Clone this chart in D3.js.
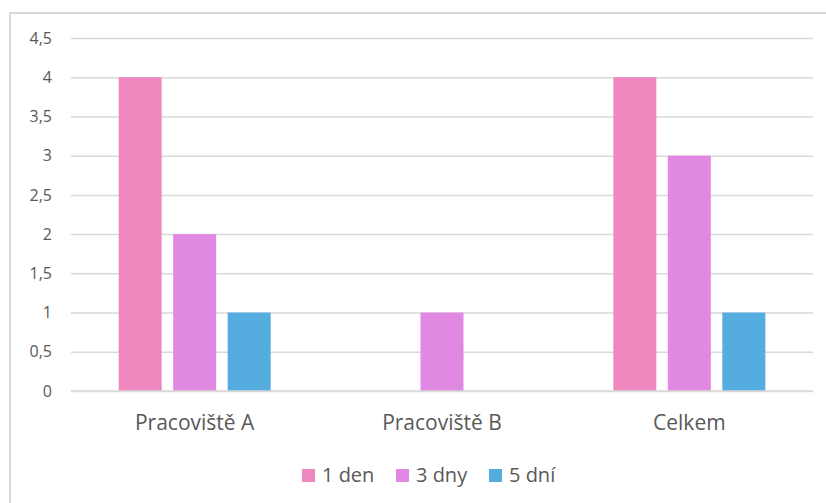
<!DOCTYPE html>
<html>
<head>
<meta charset="utf-8">
<script src="https://cdn.jsdelivr.net/npm/d3@7"></script>
<style>
  html, body { margin: 0; padding: 0; background: #fff; }
  svg { display: block; }
  text { font-family: "Open Sans", Lato, sans-serif; fill: #595959; }
</style>
</head>
<body>
<svg id="chart" width="826" height="503"></svg>
<script>
// Data
const categories = ["Pracoviště A", "Pracoviště B", "Celkem"];
const seriesNames = ["1 den", "3 dny", "5 dní"];
const den1 = [4, 0, 4];
const dny3 = [2, 1, 3];
const dni5 = [1, 0, 1];
const yTicks = [0, 0.5, 1, 1.5, 2, 2.5, 3, 3.5, 4, 4.5];
const colors = ["#EF88BE", "#E088E2", "#55ACDF"];

const seriesValues = [den1, dny3, dni5];
const rows = categories.map((c, i) => ({
  category: c,
  values: seriesNames.map((s, j) => ({ series: s, value: seriesValues[j][i], idx: j }))
}));

const svg = d3.select("#chart");
const W = 826, H = 503;
const plot = { left: 71, right: 813, top: 38, bottom: 391 };

// Chart frame
svg.append("rect")
  .attr("x", 10).attr("y", 13)
  .attr("width", W + 20).attr("height", H + 20)
  .attr("fill", "none").attr("stroke", "#d9d9d9").attr("stroke-width", 2);

const x0 = d3.scaleBand().domain(categories).range([plot.left, plot.right]).paddingInner(0).paddingOuter(0);
const y = d3.scaleLinear().domain([0, 4.5]).range([plot.bottom, plot.top]);

// Gridlines and y labels
const yAxis = d3.axisLeft(y).tickValues(yTicks)
  .tickFormat(d => String(d).replace(".", ","))
  .tickSize(-(plot.right - plot.left)).tickPadding(19);
const gy = svg.append("g").attr("transform", `translate(${plot.left},0)`).call(yAxis);
gy.select(".domain").remove();
gy.selectAll(".tick line").attr("stroke", "#d9d9d9").attr("stroke-width", 1.5);
gy.selectAll(".tick text").attr("font-size", 16).style("fill", "#595959")
  .style("font-family", "'Open Sans', Lato, sans-serif");

// Bars
const barW = 43, step = 54.5;
const groups = svg.append("g").selectAll("g").data(rows).join("g")
  .attr("transform", d => `translate(${x0(d.category) + x0.bandwidth() / 2},0)`);
groups.selectAll("rect").data(d => d.values.filter(v => v.value > 0)).join("rect")
  .attr("x", d => (d.idx - 1) * step - barW / 2)
  .attr("y", d => y(d.value))
  .attr("width", barW)
  .attr("height", d => y(0) - y(d.value))
  .attr("fill", d => colors[d.idx]);

// x axis line and category labels
svg.append("line")
  .attr("x1", plot.left).attr("x2", plot.right)
  .attr("y1", y(0)).attr("y2", y(0))
  .attr("stroke", "#d9d9d9").attr("stroke-width", 1.5);
svg.append("g").selectAll("text").data(categories).join("text")
  .attr("x", d => x0(d) + x0.bandwidth() / 2)
  .attr("y", 430)
  .attr("text-anchor", "middle")
  .attr("font-size", 21)
  .text(d => d);

// Legend
const legendX = [302, 396, 489];
const lg = svg.append("g").selectAll("g").data(seriesNames).join("g")
  .attr("transform", (d, i) => `translate(${legendX[i]},469)`);
lg.append("rect").attr("width", 13).attr("height", 13).attr("fill", (d, i) => colors[i]);
lg.append("text").attr("x", 20).attr("y", 12.5).attr("font-size", 20).text(d => d);
</script>
</body>
</html>
